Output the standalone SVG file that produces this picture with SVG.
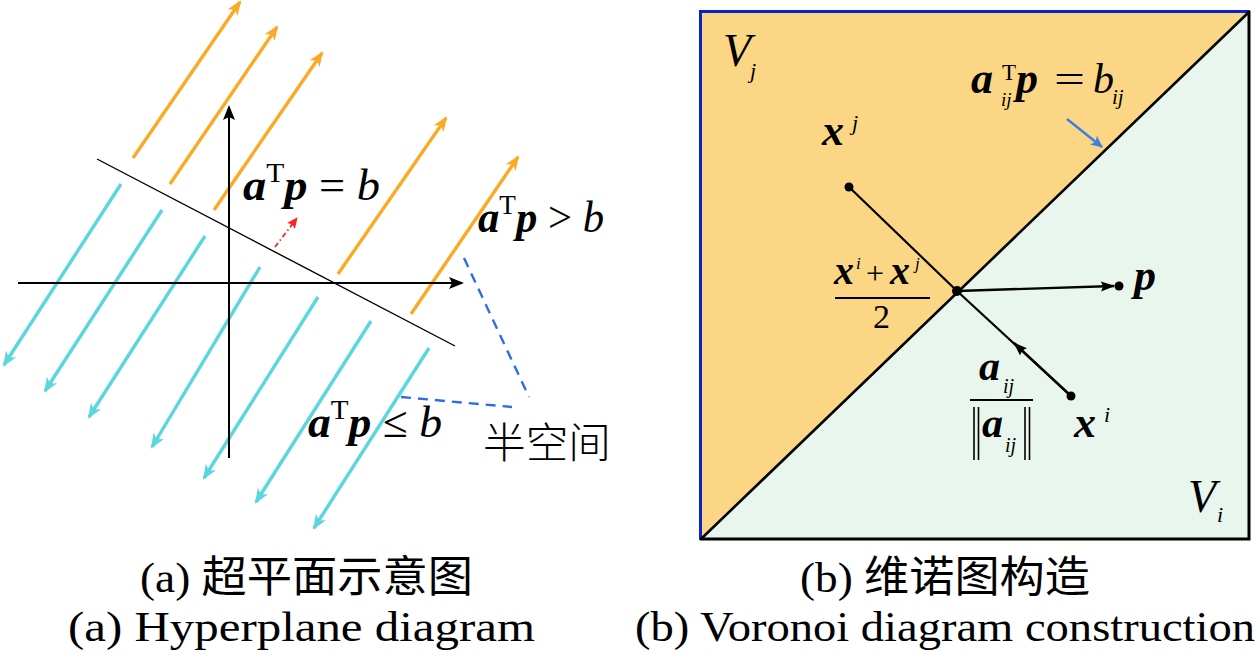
<svg xmlns="http://www.w3.org/2000/svg" width="1260" height="659" viewBox="0 0 1260 659">
<style>
  text { font-family: "Liberation Serif", "Noto Sans CJK SC", serif; fill: #000; }
  .bv { font-weight: bold; font-style: italic; }
  .it { font-style: italic; }
  .cap { font-size: 43px; }
  .org { stroke: #FBAA26; stroke-width: 3.4; fill: none; marker-end: url(#mOrg); }
  .cyn { stroke: #5AD6DF; stroke-width: 3.4; fill: none; marker-end: url(#mCyn); }
  .ax { stroke: #000; stroke-width: 2; fill: none; marker-end: url(#mAx); }
  .seg { stroke: #000; stroke-width: 2.2; fill: none; }
  .dash { stroke: #2F6BEA; stroke-width: 2.4; stroke-dasharray: 10 7; fill: none; }
  .cjk { font-family: "Noto Sans CJK SC", sans-serif; font-weight: 300; }
</style>
<defs>
  <marker id="mOrg" markerUnits="userSpaceOnUse" markerWidth="16" markerHeight="14" refX="13" refY="7" orient="auto">
    <path d="M0,1 L15,7 L0,13 L4,7 z" fill="#FBAA26"/>
  </marker>
  <marker id="mCyn" markerUnits="userSpaceOnUse" markerWidth="16" markerHeight="14" refX="13" refY="7" orient="auto">
    <path d="M0,1 L15,7 L0,13 L4,7 z" fill="#5AD6DF"/>
  </marker>
  <marker id="mAx" markerUnits="userSpaceOnUse" markerWidth="16" markerHeight="14" refX="13" refY="7" orient="auto">
    <path d="M0,1 L15,7 L0,13 L3,7 z" fill="#000"/>
  </marker>
  <marker id="mRed" markerUnits="userSpaceOnUse" markerWidth="12" markerHeight="12" refX="10" refY="6" orient="auto">
    <path d="M0,1 L11,6 L0,11 L2,6 z" fill="#FF2020"/>
  </marker>
  <marker id="mBlue" markerUnits="userSpaceOnUse" markerWidth="14" markerHeight="12" refX="11" refY="6" orient="auto">
    <path d="M0,0.5 L12,6 L0,11.5 L3,6 z" fill="#3A7EE6"/>
  </marker>
  <marker id="mBlk" markerUnits="userSpaceOnUse" markerWidth="16" markerHeight="12" refX="13" refY="6" orient="auto">
    <path d="M0,1 L14,6 L0,11 L2,6 z" fill="#000"/>
  </marker>
</defs>

<!-- ===== Panel (a) ===== -->
<g id="panel-a">
  <g id="connectors-a">
    <line class="org" x1="133" y1="158" x2="240" y2="2"/>
    <line class="org" x1="170" y1="184" x2="277" y2="27"/>
    <line class="org" x1="214" y1="210" x2="322" y2="53"/>
    <line class="org" x1="338" y1="274" x2="446" y2="118"/>
    <line class="org" x1="411" y1="314" x2="518" y2="157"/>
    <line class="cyn" x1="121" y1="184" x2="4" y2="365"/>
    <line class="cyn" x1="162" y1="210" x2="45" y2="391"/>
    <line class="cyn" x1="205" y1="236" x2="89" y2="417"/>
    <line class="cyn" x1="260" y1="267" x2="152" y2="447"/>
    <line class="cyn" x1="318" y1="297" x2="204" y2="478"/>
    <line class="cyn" x1="371" y1="321" x2="256" y2="502"/>
    <line class="cyn" x1="429" y1="348" x2="314" y2="528"/>
    <line class="ax" x1="18" y1="283" x2="462" y2="283"/>
    <line class="ax" x1="229" y1="458" x2="229" y2="107"/>
    <line x1="97" y1="159" x2="455" y2="346" stroke="#000" stroke-width="1.4"/>
    <line x1="275" y1="247" x2="297" y2="218" stroke="#FF2020" stroke-width="1.8" stroke-dasharray="5 3 1.5 3" marker-end="url(#mRed)"/>
    <line class="dash" x1="464" y1="258" x2="529" y2="397"/>
    <line class="dash" x1="401" y1="397" x2="512" y2="407"/>
  </g>
  <g id="label-eq">
    <text x="243" y="200" font-size="44" textLength="137" lengthAdjust="spacingAndGlyphs"><tspan class="bv">a</tspan><tspan font-size="28" dy="-18">T</tspan><tspan class="bv" dy="18">p</tspan><tspan> = </tspan><tspan class="it">b</tspan></text>
  </g>
  <g id="label-gt">
    <text x="478" y="232" font-size="44" textLength="126" lengthAdjust="spacingAndGlyphs"><tspan class="bv">a</tspan><tspan font-size="28" dy="-18">T</tspan><tspan class="bv" dy="18">p</tspan><tspan> &gt; </tspan><tspan class="it">b</tspan></text>
  </g>
  <g id="label-le">
    <text x="308" y="437" font-size="44" textLength="134" lengthAdjust="spacingAndGlyphs"><tspan class="bv">a</tspan><tspan font-size="28" dy="-18">T</tspan><tspan class="bv" dy="18">p</tspan><tspan> ≤ </tspan><tspan class="it">b</tspan></text>
  </g>
  <g id="label-halfspace">
    <text x="483" y="458" font-size="42" class="cjk" textLength="128" lengthAdjust="spacingAndGlyphs">半空间</text>
  </g>
</g>

<!-- ===== Panel (b) ===== -->
<g id="panel-b">
  <g id="region-Vj">
    <polygon points="700,11 1250,11 700,540" fill="#FBD684"/>
  </g>
  <g id="region-Vi">
    <polygon points="1250,11 1250,540 700,540" fill="#E9F6EE"/>
  </g>
  <g id="frame">
    <polyline points="700.5,540 700.5,11.5 1250,11.5" fill="none" stroke="#0A22CC" stroke-width="3"/>
    <polyline points="1249,11 1249,539 700,539" fill="none" stroke="#000" stroke-width="3"/>
  </g>
  <g id="connectors-b">
    <line x1="701" y1="539" x2="1249" y2="12" stroke="#000" stroke-width="2.6"/>
    <line class="seg" x1="849" y1="187" x2="957" y2="291"/>
    <line class="seg" x1="1071" y1="396" x2="957" y2="291"/>
    <line x1="1071" y1="396" x2="1014" y2="343" stroke="#000" stroke-width="2.4" marker-end="url(#mBlk)"/>
    <line x1="957" y1="291" x2="1114" y2="286" stroke="#000" stroke-width="2.4" marker-end="url(#mBlk)"/>
    <line x1="1067" y1="119" x2="1102" y2="147" stroke="#3A7EE6" stroke-width="2.4" marker-end="url(#mBlue)"/>
  </g>
  <g id="point-mid"><circle cx="957" cy="291" r="5" fill="#000"/></g>
  <g id="point-xj"><circle cx="849" cy="187" r="4.5" fill="#000"/></g>
  <g id="point-xi"><circle cx="1071" cy="396" r="4.5" fill="#000"/></g>
  <g id="point-p"><circle cx="1119" cy="286" r="4.5" fill="#000"/></g>

  <g id="label-Vj">
    <text x="723" y="66" font-size="46" class="it">V</text>
    <text x="750" y="78" font-size="22" class="it">j</text>
  </g>
  <g id="label-Vi">
    <text x="1188" y="512" font-size="46" class="it">V</text>
    <text x="1217" y="522" font-size="22" class="it">i</text>
  </g>
  <g id="label-plane">
    <text x="971" y="93" font-size="44" class="bv">a</text>
    <text x="1002" y="80" font-size="23">T</text>
    <text x="1001" y="106" font-size="19" class="it">ij</text>
    <text x="1016" y="93" font-size="44" class="bv">p</text>
    <text x="1054" y="93" font-size="40" textLength="31" lengthAdjust="spacingAndGlyphs">=</text>
    <text x="1093" y="93" font-size="42" class="it">b</text>
    <text x="1112" y="104" font-size="21" class="it">ij</text>
  </g>
  <g id="label-xj">
    <text x="822" y="145" font-size="44" class="bv">x</text>
    <text x="852" y="130" font-size="22" class="it">j</text>
  </g>
  <g id="label-midpoint">
    <text x="834" y="284" font-size="40" class="bv">x</text>
    <text x="856" y="269" font-size="17" class="it">i</text>
    <text x="866" y="284" font-size="32">+</text>
    <text x="890" y="284" font-size="40" class="bv">x</text>
    <text x="915" y="269" font-size="17" class="it">j</text>
    <line x1="835" y1="298" x2="930" y2="298" stroke="#000" stroke-width="2"/>
    <text x="873" y="328" font-size="34">2</text>
  </g>
  <g id="label-p">
    <text x="1134" y="290" font-size="44" class="bv">p</text>
  </g>
  <g id="label-normal">
    <text x="979" y="380" font-size="42" class="bv">a</text>
    <text x="1003" y="393" font-size="20" class="it">ij</text>
    <line x1="970" y1="400" x2="1033" y2="400" stroke="#000" stroke-width="1.8"/>
    <line x1="974" y1="407" x2="974" y2="460" stroke="#000" stroke-width="1.6"/>
    <line x1="978.5" y1="407" x2="978.5" y2="460" stroke="#000" stroke-width="1.6"/>
    <text x="982" y="437" font-size="42" class="bv">a</text>
    <text x="1005" y="452" font-size="20" class="it">ij</text>
    <line x1="1025" y1="407" x2="1025" y2="460" stroke="#000" stroke-width="1.6"/>
    <line x1="1029.5" y1="407" x2="1029.5" y2="460" stroke="#000" stroke-width="1.6"/>
  </g>
  <g id="label-xi">
    <text x="1074" y="437" font-size="44" class="bv">x</text>
    <text x="1104" y="422" font-size="22" class="it">i</text>
  </g>
</g>

<!-- ===== Captions ===== -->
<g id="caption-a">
  <text class="cap" x="140" y="592" textLength="333" lengthAdjust="spacingAndGlyphs">(a) 超平面示意图</text>
  <text class="cap" x="68" y="641" textLength="467" lengthAdjust="spacingAndGlyphs">(a) Hyperplane diagram</text>
</g>
<g id="caption-b">
  <text class="cap" x="800" y="592" textLength="290" lengthAdjust="spacingAndGlyphs">(b) 维诺图构造</text>
  <text class="cap" x="635" y="641" textLength="620" lengthAdjust="spacingAndGlyphs">(b) Voronoi diagram construction</text>
</g>
</svg>
